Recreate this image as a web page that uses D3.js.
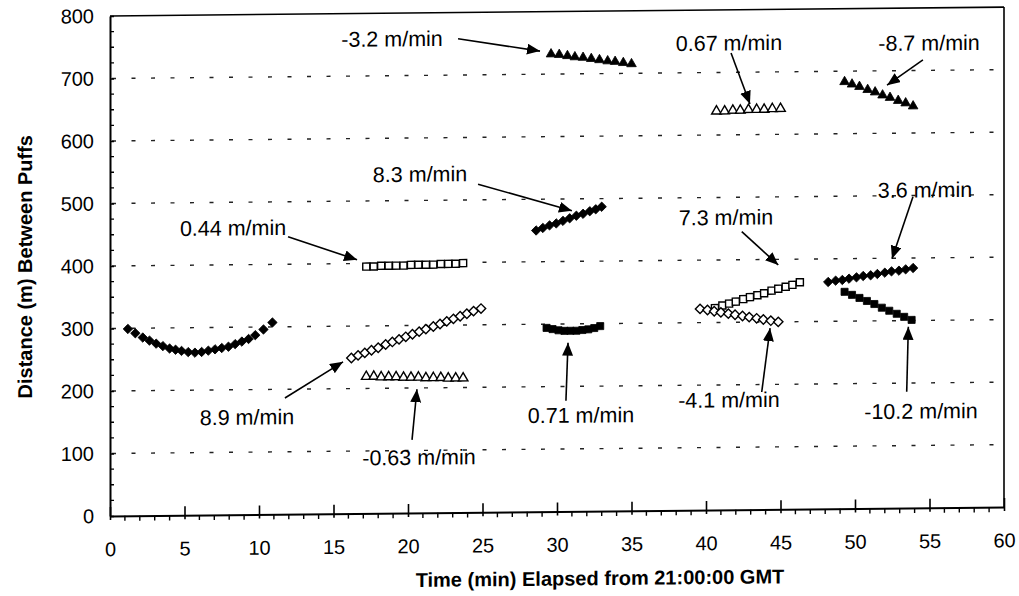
<!DOCTYPE html>
<html>
<head>
<meta charset="utf-8">
<script src="https://cdn.jsdelivr.net/npm/d3@7"></script>
<style>
  body { margin: 0; background: #fff; }
  svg { display: block; font-family: "Liberation Sans", Arial, Helvetica, sans-serif; }
</style>
</head>
<body>
<svg id="chart"></svg>
<script>
// Tick labels
const xTicks = [0, 5, 10, 15, 20, 25, 30, 35, 40, 45, 50, 55, 60];
const yTicks = [0, 100, 200, 300, 400, 500, 600, 700, 800];

// Series: time (min) and distance (m) between puffs
const tA = [1.2, 1.7, 2.2, 2.65, 3.1, 3.55, 4.0, 4.4, 4.8, 5.25, 5.7, 6.15, 6.6, 7.05, 7.5, 7.95, 8.4, 8.85, 9.3, 9.75, 10.3, 10.9];
const dA = [299, 292, 285, 280, 275, 271, 267, 265, 263, 261, 260, 261, 263, 265, 267, 269, 273, 277, 281, 287, 296, 307];

const tB = [17.2, 17.7, 18.2, 18.7, 19.2, 19.7, 20.2, 20.7, 21.2, 21.7, 22.2, 22.7, 23.2, 23.7];
const dB = [395, 395, 396, 396, 396, 396, 397, 397, 397, 397, 398, 398, 398, 399];

const tC = [16.2, 16.65, 17.1, 17.55, 18.0, 18.5, 18.95, 19.4, 19.85, 20.3, 20.75, 21.2, 21.7, 22.15, 22.6, 23.05, 23.5, 23.95, 24.4, 24.9];
const dC = [249, 253, 257, 261, 265, 270, 274, 278, 282, 286, 290, 294, 298, 302, 306, 310, 314, 318, 322, 326];

const tD = [17.2, 17.7, 18.2, 18.7, 19.2, 19.7, 20.2, 20.7, 21.2, 21.7, 22.2, 22.7, 23.2, 23.7];
const dD = [219, 219, 218, 218, 218, 217, 217, 217, 216, 216, 216, 215, 215, 215];

const tE = [29.6, 30.15, 30.7, 31.2, 31.75, 32.3, 32.85, 33.4, 33.9, 34.45, 35.0];
const dE = [732, 731, 729, 727, 726, 724, 722, 720, 719, 717, 715];

const tF = [28.6, 29.05, 29.5, 29.95, 30.4, 30.85, 31.3, 31.75, 32.2, 32.6, 33.0];
const dF = [450, 454, 458, 461, 465, 469, 473, 476, 480, 483, 487];

const tG = [29.3, 29.7, 30.1, 30.5, 30.9, 31.3, 31.7, 32.1, 32.5, 32.9];
const dG = [294, 292, 290, 289, 289, 289, 290, 291, 293, 296];

const tH = [40.7, 41.25, 41.8, 42.3, 42.85, 43.4, 43.9, 44.45, 45.0];
const dH = [638, 638, 639, 639, 640, 640, 640, 641, 641];

const tI = [40.6, 41.1, 41.55, 42.0, 42.5, 42.95, 43.45, 43.9, 44.4, 44.85, 45.35, 45.8, 46.3];
const dI = [323, 327, 330, 333, 337, 340, 343, 346, 350, 353, 356, 359, 363];

const tJ = [39.6, 40.1, 40.55, 41.0, 41.5, 41.95, 42.45, 42.9, 43.4, 43.85, 44.35, 44.85];
const dJ = [322, 320, 318, 316, 314, 312, 310, 308, 306, 304, 302, 300];

const tK = [49.3, 49.8, 50.3, 50.85, 51.35, 51.85, 52.35, 52.9, 53.4, 53.9];
const dK = [683, 679, 675, 670, 666, 661, 657, 652, 648, 643];

const tL = [48.2, 48.7, 49.15, 49.6, 50.1, 50.55, 51.05, 51.5, 52.0, 52.45, 52.95, 53.4, 53.9];
const dL = [363, 365, 366, 368, 370, 372, 373, 375, 377, 379, 380, 382, 384];

const tM = [49.3, 49.8, 50.3, 50.8, 51.3, 51.8, 52.3, 52.8, 53.3, 53.8];
const dM = [347, 342, 337, 332, 327, 321, 316, 311, 306, 301];

// Rate labels: text position, arrow start, arrow end (time, distance)
const labels = ['-3.2 m/min', '0.67 m/min', '-8.7 m/min', '8.3 m/min', '0.44 m/min', '7.3 m/min',
                '3.6 m/min', '8.9 m/min', '-0.63 m/min', '0.71 m/min', '-4.1 m/min', '-10.2 m/min'];
const labelPos = [[18.93, 759], [41.54, 747], [54.97, 744], [20.81, 542], [8.26, 459], [41.34, 468],
                  [54.7, 509], [9.19, 156], [20.74, 89], [31.61, 154], [41.54, 176], [54.43, 155]];
const arrowFrom = [[23.36, 758], [41.68, 731], [54.56, 717], [24.7, 525], [11.95, 444], [42.4, 445],
                   [53.89, 498], [11.74, 186], [20.27, 117], [30.6, 177], [43.74, 188], [53.47, 186]];
const arrowTo = [[28.86, 737], [42.95, 649], [52.15, 677], [31.0, 481], [16.58, 406], [44.85, 391],
                 [52.48, 399], [15.64, 243], [20.6, 198], [30.74, 270], [44.3, 290], [53.58, 290]];

const width = 1019;
const height = 596;

const svg = d3.select('#chart')
    .attr('width', width)
    .attr('height', height);

const x = d3.scaleLinear().domain([0, 60]).range([110, 1004]);
const y = d3.scaleLinear().domain([0, 800]).range([516, 16]);

// the scanned original is slightly sheared
const g = svg.append('g')
    .attr('transform', 'translate(110,0) skewY(-0.57) translate(-110,0)');

// Gridlines
g.append('g')
    .selectAll('line')
    .data(yTicks.slice(1, -1))
    .enter()
    .append('line')
    .attr('x1', x(0))
    .attr('x2', x(60))
    .attr('y1', d => y(d))
    .attr('y2', d => y(d))
    .attr('stroke', '#222')
    .attr('stroke-width', 1.4)
    .attr('stroke-dasharray', '4,15.5')
    .attr('stroke-dashoffset', -2);

// Frame
g.append('line').attr('x1', x(0)).attr('x2', x(60)).attr('y1', y(800)).attr('y2', y(800))
    .attr('stroke', '#000').attr('stroke-width', 1.6);
g.append('line').attr('x1', x(60)).attr('x2', x(60)).attr('y1', y(0)).attr('y2', y(800))
    .attr('stroke', '#000').attr('stroke-width', 1.6);

// Axes
const xAxis = d3.axisBottom(x).tickValues(xTicks).tickSizeInner(4).tickSizeOuter(0).tickPadding(22);
const yAxis = d3.axisLeft(y).tickValues(yTicks).tickSizeInner(6).tickSizeOuter(0).tickPadding(10);

const gx = g.append('g').attr('transform', `translate(0,${y(0)})`).call(xAxis);
const gy = g.append('g').attr('transform', `translate(${x(0)},0)`).call(yAxis);

[gx, gy].forEach(a => {
    a.select('.domain').attr('stroke', '#000').attr('stroke-width', 2);
    a.selectAll('.tick line').attr('stroke', '#000').attr('stroke-width', 1.6);
    a.selectAll('.tick text')
        .attr('fill', '#000')
        .style('font-size', '20px')
        .style('font-family', '"Liberation Sans", Arial, sans-serif');
});
gx.selectAll('.tick line').attr('y1', -9);
gy.selectAll('.tick line').attr('x2', 4);

// Minor ticks
const xMinor = d3.range(0, 61).filter(v => v % 5 !== 0);
const yMinor = d3.range(0, 801, 25).filter(v => v % 100 !== 0);
g.append('g').selectAll('line').data(xMinor).enter().append('line')
    .attr('x1', d => x(d)).attr('x2', d => x(d))
    .attr('y1', y(0)).attr('y2', y(0) + 5)
    .attr('stroke', '#000').attr('stroke-width', 1.4);
g.append('g').selectAll('line').data(yMinor).enter().append('line')
    .attr('x1', x(0)).attr('x2', x(0) + 4)
    .attr('y1', d => y(d)).attr('y2', d => y(d))
    .attr('stroke', '#000').attr('stroke-width', 1.4);

// Axis titles
g.append('text')
    .attr('x', 600)
    .attr('y', 590)
    .attr('text-anchor', 'middle')
    .style('font-size', '20px')
    .style('font-weight', 'bold')
    .text('Time (min) Elapsed from 21:00:00 GMT');

g.append('text')
    .attr('transform', 'translate(32,266) rotate(-90)')
    .attr('text-anchor', 'middle')
    .style('font-size', '20px')
    .style('font-weight', 'bold')
    .text('Distance (m) Between Puffs');

// Data markers
const series = [
    { t: tA, d: dA, shape: 'diamond', filled: true },
    { t: tB, d: dB, shape: 'square', filled: false },
    { t: tC, d: dC, shape: 'diamond', filled: false },
    { t: tD, d: dD, shape: 'triangle', filled: false },
    { t: tE, d: dE, shape: 'triangle', filled: true },
    { t: tF, d: dF, shape: 'diamond', filled: true },
    { t: tG, d: dG, shape: 'square', filled: true },
    { t: tH, d: dH, shape: 'triangle', filled: false },
    { t: tI, d: dI, shape: 'square', filled: false },
    { t: tJ, d: dJ, shape: 'diamond', filled: false },
    { t: tK, d: dK, shape: 'triangle', filled: true },
    { t: tL, d: dL, shape: 'diamond', filled: true },
    { t: tM, d: dM, shape: 'square', filled: true }
];

const symbols = {
    diamond: d3.symbol().type(d3.symbolSquare).size(44)(),
    square: d3.symbol().type(d3.symbolSquare).size(50)(),
    triangle: d3.symbol().type(d3.symbolTriangle).size(40)()
};

series.forEach(s => {
    g.append('g')
        .selectAll('path')
        .data(s.t.map((t, i) => [t, s.d[i]]))
        .enter()
        .append('path')
        .attr('d', symbols[s.shape])
        .attr('transform', p => `translate(${x(p[0])},${y(p[1])})` + (s.shape === 'diamond' ? ' rotate(45)' : ''))
        .attr('fill', s.filled ? '#000' : '#fff')
        .attr('stroke', '#000')
        .attr('stroke-width', s.filled ? 0.8 : 1.4);
});

// Arrows and rate labels
svg.append('defs')
    .append('marker')
    .attr('id', 'head')
    .attr('markerUnits', 'userSpaceOnUse')
    .attr('markerWidth', 14)
    .attr('markerHeight', 12)
    .attr('refX', 13)
    .attr('refY', 5.5)
    .attr('orient', 'auto')
    .append('path')
    .attr('d', 'M0,0 L13,5.5 L0,11 Z')
    .attr('fill', '#000');

g.append('g')
    .selectAll('line')
    .data(labels)
    .enter()
    .append('line')
    .attr('x1', (d, i) => x(arrowFrom[i][0]))
    .attr('y1', (d, i) => y(arrowFrom[i][1]))
    .attr('x2', (d, i) => x(arrowTo[i][0]))
    .attr('y2', (d, i) => y(arrowTo[i][1]))
    .attr('stroke', '#000')
    .attr('stroke-width', 1.6)
    .attr('marker-end', 'url(#head)');

g.append('g')
    .selectAll('text')
    .data(labels)
    .enter()
    .append('text')
    .attr('x', (d, i) => x(labelPos[i][0]))
    .attr('y', (d, i) => y(labelPos[i][1]))
    .attr('dy', '0.35em')
    .attr('text-anchor', 'middle')
    .style('font-size', '21.5px')
    .text(d => d);
</script>
</body>
</html>
